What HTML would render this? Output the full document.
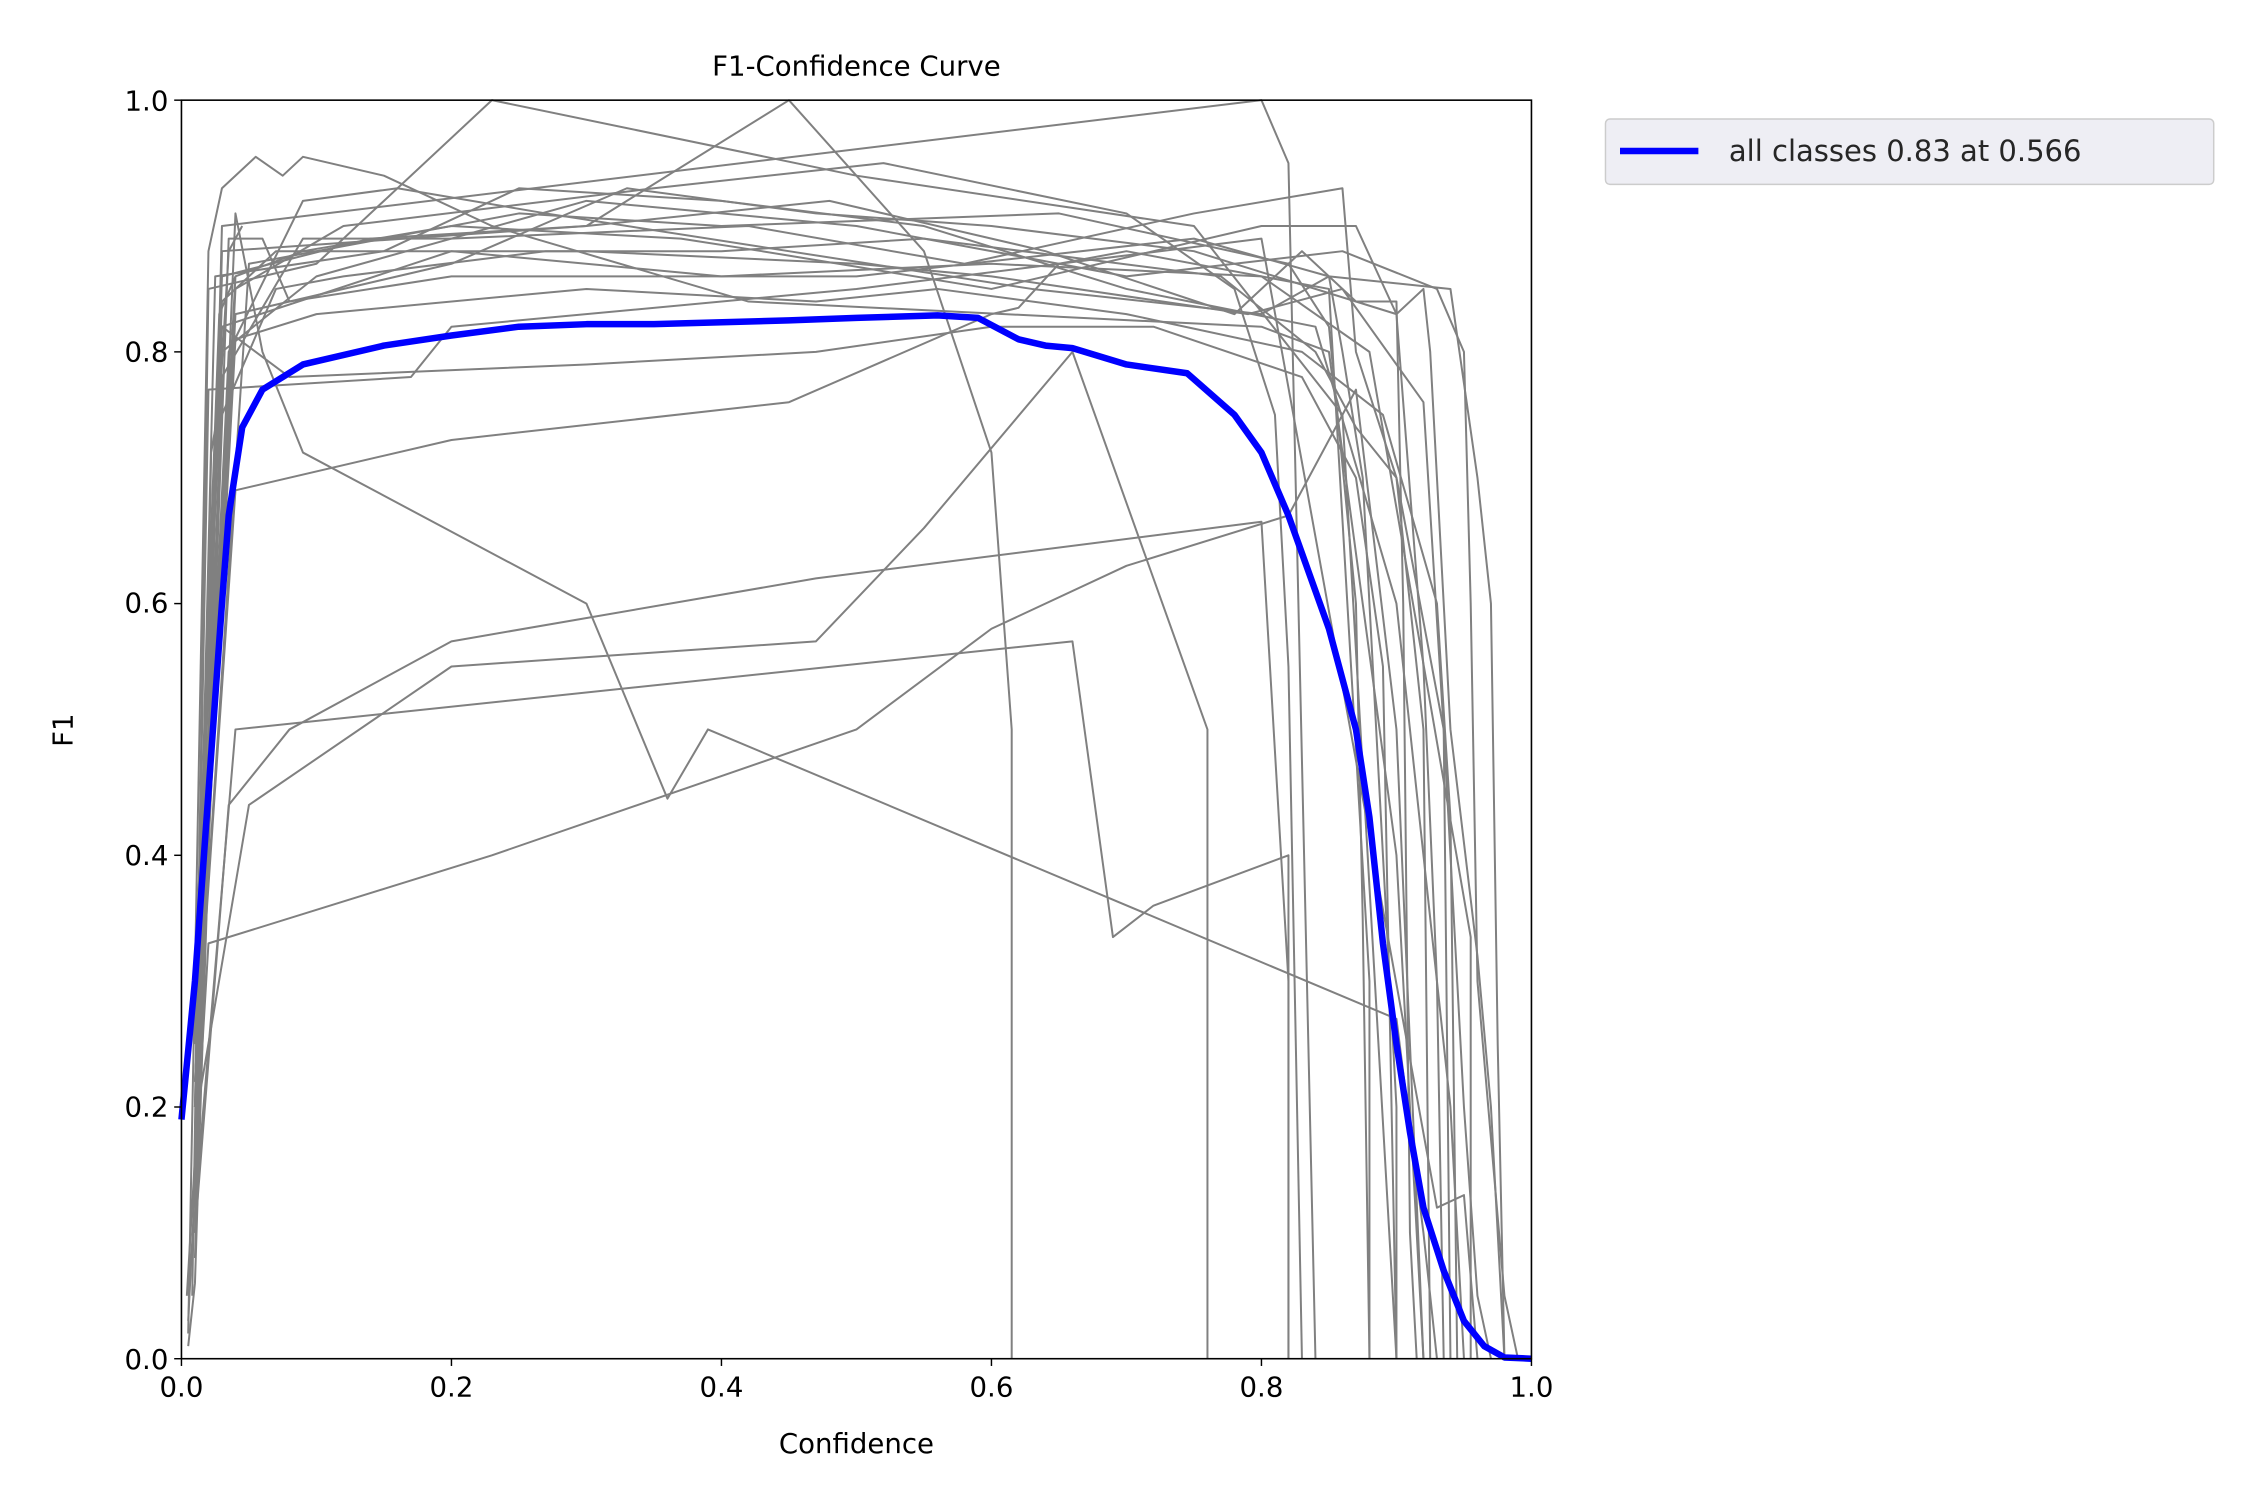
<!DOCTYPE html>
<html><head><style>html,body{margin:0;padding:0;background:#fff}svg{display:block}</style></head>
<body>
<svg width="2250" height="1500" viewBox="0 0 1550 1033.33" xmlns="http://www.w3.org/2000/svg" font-family="'DejaVu Sans','Liberation Sans',sans-serif">
<rect width="1550" height="1034" fill="#fff"/>
<g transform="translate(125,936) scale(930,-867)" fill="none" stroke="#808080" stroke-width="2" stroke-linejoin="round">
<polyline vector-effect="non-scaling-stroke" points="0.005,0.02 0.02,0.88 0.03,0.93 0.055,0.955 0.075,0.94 0.09,0.955 0.15,0.94 0.23,0.9 0.42,0.84 0.8,0.82 0.85,0.8 0.9,0.4 0.92,0"/>
<polyline vector-effect="non-scaling-stroke" points="0.008,0.05 0.02,0.85 0.1,0.87 0.23,1.0 0.5,0.94 0.75,0.9 0.86,0.75 0.9,0"/>
<polyline vector-effect="non-scaling-stroke" points="0.01,0.1 0.03,0.88 0.3,0.9 0.45,1.0 0.55,0.88 0.6,0.72 0.615,0.5 0.615,0"/>
<polyline vector-effect="non-scaling-stroke" points="0.01,0.08 0.03,0.9 0.8,1.0 0.82,0.95 0.84,0"/>
<polyline vector-effect="non-scaling-stroke" points="0.012,0.2 0.04,0.91 0.06,0.8 0.09,0.72 0.3,0.6 0.36,0.445 0.39,0.5 0.9,0.27 0.92,0.1 0.93,0"/>
<polyline vector-effect="non-scaling-stroke" points="0.01,0.15 0.02,0.33 0.23,0.4 0.5,0.5 0.6,0.58 0.7,0.63 0.82,0.67 0.87,0.77 0.9,0.5 0.92,0"/>
<polyline vector-effect="non-scaling-stroke" points="0.01,0.12 0.04,0.5 0.66,0.57 0.69,0.335 0.72,0.36 0.82,0.4 0.82,0"/>
<polyline vector-effect="non-scaling-stroke" points="0.01,0.1 0.035,0.44 0.08,0.5 0.2,0.57 0.47,0.62 0.8,0.665 0.82,0.3 0.82,0"/>
<polyline vector-effect="non-scaling-stroke" points="0.012,0.2 0.05,0.44 0.2,0.55 0.47,0.57 0.55,0.66 0.66,0.8 0.76,0.5 0.76,0"/>
<polyline vector-effect="non-scaling-stroke" points="0.012,0.25 0.04,0.69 0.2,0.73 0.45,0.76 0.6,0.83 0.62,0.835 0.65,0.87 0.7,0.88 0.85,0.85 0.88,0.3 0.88,0"/>
<polyline vector-effect="non-scaling-stroke" points="0.01,0.2 0.02,0.77 0.17,0.78 0.2,0.82 0.5,0.85 0.8,0.89 0.93,0.12 0.95,0.13 0.96,0"/>
<polyline vector-effect="non-scaling-stroke" points="0.01,0.3 0.03,0.8 0.1,0.86 0.3,0.92 0.5,0.9 0.7,0.86 0.86,0.88 0.93,0.85 0.95,0.8 0.955,0.6 0.96,0.3 0.98,0.05 0.99,0"/>
<polyline vector-effect="non-scaling-stroke" points="0.01,0.25 0.03,0.82 0.2,0.88 0.4,0.86 0.6,0.87 0.8,0.86 0.88,0.8 0.955,0.335 0.955,0"/>
<polyline vector-effect="non-scaling-stroke" points="0.01,0.2 0.025,0.86 0.15,0.88 0.25,0.93 0.4,0.92 0.55,0.9 0.7,0.85 0.84,0.82 0.9,0.6 0.94,0.2 0.95,0"/>
<polyline vector-effect="non-scaling-stroke" points="0.01,0.3 0.03,0.84 0.07,0.88 0.3,0.88 0.5,0.87 0.6,0.86 0.79,0.83 0.86,0.85 0.92,0.76 0.935,0.5 0.94,0"/>
<polyline vector-effect="non-scaling-stroke" points="0.01,0.22 0.04,0.85 0.12,0.9 0.35,0.93 0.52,0.95 0.7,0.91 0.78,0.85 0.81,0.75 0.82,0.55 0.83,0"/>
<polyline vector-effect="non-scaling-stroke" points="0.01,0.18 0.03,0.78 0.09,0.89 0.2,0.89 0.42,0.9 0.58,0.87 0.75,0.91 0.86,0.93 0.87,0.8 0.9,0.7 0.92,0.5 0.925,0"/>
<polyline vector-effect="non-scaling-stroke" points="0.01,0.2 0.04,0.83 0.2,0.87 0.33,0.93 0.47,0.91 0.6,0.9 0.75,0.88 0.9,0.83 0.92,0.55 0.93,0.3 0.935,0"/>
<polyline vector-effect="non-scaling-stroke" points="0.015,0.3 0.05,0.87 0.25,0.91 0.4,0.9 0.65,0.91 0.82,0.87 0.85,0.82 0.87,0.6 0.875,0.35 0.88,0"/>
<polyline vector-effect="non-scaling-stroke" points="0.012,0.28 0.035,0.8 0.09,0.92 0.16,0.93 0.27,0.91 0.45,0.88 0.63,0.85 0.8,0.83 0.85,0.86 0.86,0.8 0.875,0.7 0.9,0.2 0.9,0"/>
<polyline vector-effect="non-scaling-stroke" points="0.01,0.25 0.03,0.86 0.14,0.89 0.3,0.9 0.48,0.92 0.64,0.88 0.78,0.83 0.83,0.88 0.87,0.84 0.9,0.84 0.905,0.6 0.91,0.1 0.915,0"/>
<polyline vector-effect="non-scaling-stroke" points="0.01,0.2 0.03,0.75 0.07,0.85 0.12,0.86 0.27,0.88 0.4,0.88 0.55,0.89 0.77,0.86 0.84,0.8 0.87,0.74 0.9,0.7 0.935,0.5 0.95,0.2 0.96,0.05 0.97,0"/>
<polyline vector-effect="non-scaling-stroke" points="0.01,0.22 0.04,0.81 0.1,0.83 0.3,0.85 0.47,0.84 0.56,0.85 0.7,0.83 0.83,0.8 0.89,0.75 0.93,0.6 0.94,0.43 0.945,0"/>
<polyline vector-effect="non-scaling-stroke" points="0.01,0.3 0.03,0.82 0.08,0.78 0.3,0.79 0.47,0.8 0.6,0.82 0.72,0.82 0.83,0.78 0.87,0.7 0.89,0.55 0.9,0"/>
<polyline vector-effect="non-scaling-stroke" points="0.012,0.3 0.04,0.86 0.09,0.88 0.2,0.9 0.37,0.89 0.43,0.88 0.6,0.85 0.72,0.88 0.8,0.9 0.87,0.9 0.9,0.83 0.92,0.85 0.925,0.8 0.94,0.5 0.96,0.32 0.97,0.2 0.98,0"/>
<polyline vector-effect="non-scaling-stroke" points="0.01,0.15 0.035,0.89 0.06,0.89 0.08,0.84 0.2,0.86 0.5,0.86 0.75,0.89 0.85,0.86 0.94,0.85 0.96,0.7 0.97,0.6 0.975,0.25 0.98,0"/>
<polyline vector-effect="non-scaling-stroke" points="0.005,0.01 0.01,0.06 0.02,0.4 0.025,0.7 0.035,0.88 0.045,0.9"/>
<polyline vector-effect="non-scaling-stroke" points="0.005,0.03 0.012,0.18 0.018,0.5 0.022,0.72 0.03,0.77"/>
<polyline vector-effect="non-scaling-stroke" points="0.004,0.05 0.015,0.25 0.02,0.6 0.028,0.83 0.04,0.86"/>
<polyline vector-effect="non-scaling-stroke" stroke="#0000ff" stroke-width="6.5" points="0,0.19 0.01,0.3 0.02,0.45 0.03,0.6 0.035,0.67 0.045,0.74 0.06,0.77 0.09,0.79 0.15,0.805 0.2,0.813 0.25,0.82 0.3,0.822 0.35,0.822 0.45,0.825 0.5,0.827 0.56,0.829 0.59,0.827 0.62,0.81 0.64,0.805 0.66,0.803 0.7,0.79 0.745,0.783 0.78,0.75 0.8,0.72 0.82,0.67 0.85,0.58 0.87,0.5 0.88,0.43 0.89,0.33 0.9,0.25 0.91,0.18 0.92,0.12 0.935,0.07 0.95,0.03 0.965,0.01 0.98,0.001 1,0"/>
</g>
<rect x="125" y="69" width="930" height="867" fill="none" stroke="#000" stroke-width="1.1"/>
<g stroke="#000" stroke-width="1">
<line x1="125" y1="936" x2="125" y2="941"/><line x1="311" y1="936" x2="311" y2="941"/><line x1="497" y1="936" x2="497" y2="941"/><line x1="683" y1="936" x2="683" y2="941"/><line x1="869" y1="936" x2="869" y2="941"/><line x1="1055" y1="936" x2="1055" y2="941"/>
<line x1="120" y1="936" x2="125" y2="936"/><line x1="120" y1="762.6" x2="125" y2="762.6"/><line x1="120" y1="589.2" x2="125" y2="589.2"/><line x1="120" y1="415.8" x2="125" y2="415.8"/><line x1="120" y1="242.4" x2="125" y2="242.4"/><line x1="120" y1="69" x2="125" y2="69"/>
</g>
<g font-size="19" fill="#000" text-anchor="middle">
<text x="125" y="962">0.0</text><text x="311" y="962">0.2</text><text x="497" y="962">0.4</text><text x="683" y="962">0.6</text><text x="869" y="962">0.8</text><text x="1055" y="962">1.0</text>
<text x="590" y="1001">Confidence</text>
<text x="590" y="52">F1-Confidence Curve</text>
</g>
<g font-size="19" fill="#000" text-anchor="end">
<text x="116" y="943">0.0</text><text x="116" y="769">0.2</text><text x="116" y="596">0.4</text><text x="116" y="422">0.6</text><text x="116" y="249">0.8</text><text x="116" y="76">1.0</text>
</g>
<text transform="translate(50,503) rotate(-90)" font-size="19" text-anchor="middle">F1</text>
<rect x="1106" y="82" width="419" height="45" rx="3" fill="#eeeef4" stroke="#ccc" stroke-width="1"/>
<line x1="1116" y1="104" x2="1170" y2="104" stroke="#0000ff" stroke-width="4.5"/>
<text x="1191" y="111" font-size="20" fill="#262626">all classes 0.83 at 0.566</text>
</svg>
</body></html>
